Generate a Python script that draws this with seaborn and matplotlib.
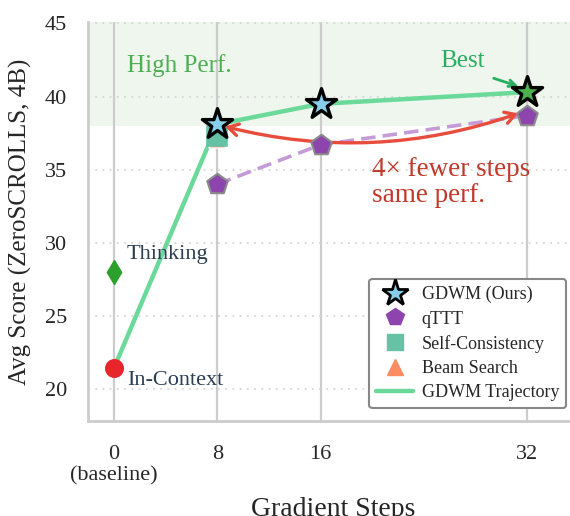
import matplotlib
matplotlib.use("Agg")
import matplotlib.pyplot as plt
from matplotlib.lines import Line2D
import pandas as pd
import seaborn as sns

# data
traj_steps = [0, 8, 16, 32]
traj_score = [21.4, 38.1, 39.5, 40.3]

gdwm_steps = [8, 16]
gdwm_score = [38.1, 39.5]
best_step = 32
best_score = 40.3

qttt_steps = [8, 16, 32]
qttt_score = [34.0, 36.7, 38.7]

sc_step = 8
sc_score = 37.3
beam_step = 8
beam_score = 37.1

thinking_score = 28.0
incontext_score = 21.4

xtick_pos = [0, 8, 16, 32]
xtick_lab = ["0\n(baseline)", "8", "16", "32"]
ytick_pos = [20, 25, 30, 35, 40, 45]

sns.set_theme(style="whitegrid")
plt.rcParams["font.family"] = ["Liberation Serif", "DejaVu Serif"]

fig = plt.figure(figsize=(5.7, 5.16), dpi=100)
ax = fig.add_axes([88 / 570, 95 / 516, 491 / 570, 399 / 516])

ax.axhspan(38, 46, color="#eef6ee", zorder=0.1, lw=0)

traj = pd.DataFrame({"step": traj_steps, "score": traj_score})
sns.lineplot(data=traj, x="step", y="score", ax=ax, color="#6bd99a", lw=3.2, zorder=3)

qttt = pd.DataFrame({"step": qttt_steps, "score": qttt_score})
sns.lineplot(data=qttt, x="step", y="score", ax=ax, color="#c49bd6", lw=2.6,
             linestyle=(0, (4, 2)), zorder=2)

sns.scatterplot(x=[beam_step], y=[beam_score], ax=ax, marker="^", s=150,
                color="#fc8d62", edgecolor="white", zorder=3)
sns.scatterplot(x=[sc_step], y=[sc_score], ax=ax, marker="s", s=210,
                color="#66c2a5", edgecolor="#66c2a5", zorder=4)
sns.scatterplot(x=qttt_steps, y=qttt_score, ax=ax, marker="p", s=240,
                color="#8e44ad", edgecolor="#8a8a8a", linewidth=1.5, zorder=5)
sns.scatterplot(x=[0], y=[thinking_score], ax=ax, marker="d", s=150,
                color="#2ca02c", edgecolor="#2ca02c", zorder=5)
sns.scatterplot(x=[0], y=[incontext_score], ax=ax, marker="o", s=160,
                color="#e8252a", edgecolor="#e8252a", zorder=5)

# annotations
ax.text(1.0, 42.1, "High Perf.", color="#4caf50", fontsize=18, va="center", ha="left")
ax.text(27.0, 42.4, "Best", color="#27ae60", fontsize=18, ha="center", va="center")
ax.annotate("", xy=(31.3, 40.7), xytext=(29.4, 41.25),
            arrowprops=dict(arrowstyle="->", color="#27ae60", lw=2,
                            shrinkA=0, shrinkB=0), zorder=5)
ax.annotate("", xy=(8.6, 37.95), xytext=(31.3, 38.85),
            arrowprops=dict(arrowstyle="<->,head_length=0.6,head_width=0.35",
                            color="#e74c3c", lw=2.4,
                            connectionstyle="arc3,rad=-0.15",
                            shrinkA=0, shrinkB=0), zorder=4)

sns.scatterplot(x=gdwm_steps, y=gdwm_score, ax=ax, marker="*", s=520,
                color="#87ceeb", edgecolor="black", linewidth=2.4, zorder=6)
sns.scatterplot(x=[best_step], y=[best_score], ax=ax, marker="*", s=520,
                color="#4cb04c", edgecolor="black", linewidth=2.4, zorder=6)

ax.text(20.0, 34.1, "4\u00d7 fewer steps\nsame perf.", color="#c0392b",
        fontsize=19.5, ha="left", va="center", linespacing=1.05)
ax.text(1.0, 29.2, "Thinking", color="#2c3e50", fontsize=16, ha="left", va="center")
ax.text(1.0, 20.6, "In-Context", color="#2c3e50", fontsize=16, ha="left", va="center")

ax.set_xlim(-2, 36)
ax.set_ylim(17.8, 45.1)
ax.set_xticks(xtick_pos)
ax.set_xticklabels(xtick_lab)
ax.set_yticks(ytick_pos)
ax.tick_params(axis="x", labelsize=16, pad=17, length=0)
ax.tick_params(axis="y", labelsize=16, pad=15, length=0)
ax.set_xlabel("Gradient Steps", fontsize=20, labelpad=8)
ax.set_ylabel("Avg Score (ZeroSCROLLS, 4B)", fontsize=18, labelpad=9)

ax.xaxis.grid(True, color="#cccccc", lw=1.6, ls="-")
ax.yaxis.grid(True, color="#d6d6d6", lw=1.3, ls=(0, (1, 3)))
ax.set_axisbelow(True)
sns.despine(ax=ax, top=True, right=True)
for side in ["left", "bottom"]:
    ax.spines[side].set_color("#cccccc")
    ax.spines[side].set_linewidth(2)

handles = [
    Line2D([], [], ls="none", marker="*", ms=20, mfc="#87ceeb", mec="black", mew=2),
    Line2D([], [], ls="none", marker="p", ms=13, mfc="#8e44ad", mec="#8e44ad"),
    Line2D([], [], ls="none", marker="s", ms=11, mfc="#66c2a5", mec="#66c2a5"),
    Line2D([], [], ls="none", marker="^", ms=11, mfc="#fc8d62", mec="#fc8d62"),
    Line2D([], [], color="#6bd99a", lw=3.2),
]
labels = ["GDWM (Ours)", "qTTT", "Self-Consistency", "Beam Search", "GDWM Trajectory"]
leg = ax.legend(handles, labels, loc="lower right", fontsize=13, frameon=True,
                framealpha=1, edgecolor="#888888", fancybox=True,
                borderpad=0.4, labelspacing=0.4, handlelength=2.0,
                handletextpad=0.5, borderaxespad=0.7)
leg.get_frame().set_linewidth(1.5)

fig.savefig("out.png", dpi=100)
